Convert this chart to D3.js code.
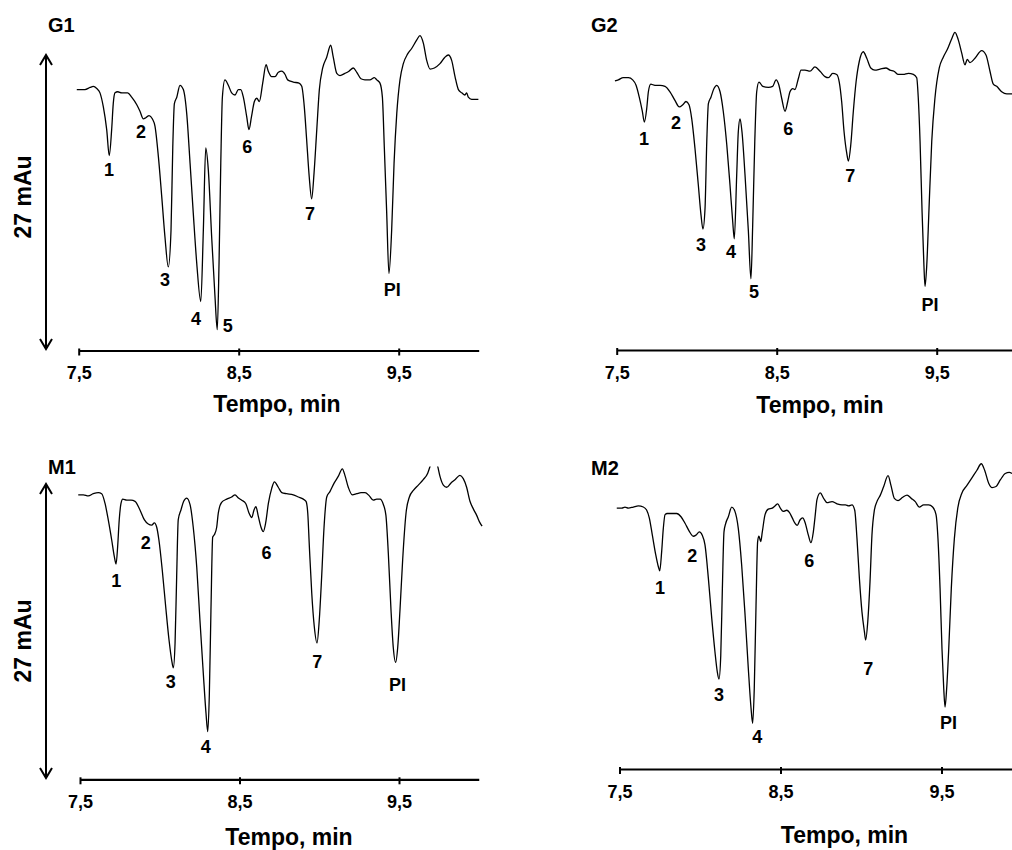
<!DOCTYPE html>
<html>
<head>
<meta charset="utf-8">
<script src="https://cdn.jsdelivr.net/npm/d3@7"></script>
<style>
  html, body { margin: 0; padding: 0; background: #fff; }
  svg { display: block; }
  text { font-family: Arial, "Liberation Sans", sans-serif; font-weight: bold; fill: #000; }
</style>
</head>
<body>
<svg id="chart" width="1012" height="850"></svg>
<script>
// Electropherograms (absorbance, mAu, vs migration time, min) for four samples.

const tickValues = [7.5, 8.5, 9.5];
const tickLabels = ["7,5", "8,5", "9,5"];
const xTitle = "Tempo, min";
const yTitle = "27 mAu";
const scaleBarMau = 27;

// [time (min), signal (mAu)]
const traceG1 = [[7.488,23.8],[7.539,23.8],[7.571,24.0],[7.591,24.1],[7.613,23.9],[7.633,23.5],[7.654,22.2],[7.675,20.1],[7.691,17.7],[7.706,20.1],[7.716,22.5],[7.727,23.5],[7.744,23.6],[7.769,23.5],[7.806,23.5],[7.831,23.1],[7.863,22.4],[7.883,21.8],[7.904,21.1],[7.919,21.2],[7.94,21.4],[7.96,21.1],[7.977,20.4],[7.998,17.6],[8.019,13.9],[8.039,10.2],[8.06,7.4],[8.077,10.8],[8.088,18.5],[8.098,22.5],[8.113,23.1],[8.133,24.2],[8.154,23.8],[8.175,21.6],[8.196,17.0],[8.216,12.4],[8.238,7.7],[8.263,4.2],[8.279,10.8],[8.294,18.4],[8.31,16.4],[8.331,10.2],[8.352,4.6],[8.366,1.6],[8.377,7.7],[8.388,17.0],[8.398,23.1],[8.414,24.7],[8.435,24.2],[8.456,23.5],[8.477,23.3],[8.498,23.8],[8.513,23.8],[8.529,23.1],[8.55,21.3],[8.564,20.1],[8.58,21.3],[8.598,22.7],[8.613,23.0],[8.629,22.7],[8.65,24.4],[8.671,26.1],[8.685,25.5],[8.706,25.0],[8.727,25.0],[8.748,25.4],[8.769,25.5],[8.79,25.2],[8.806,24.7],[8.841,24.5],[8.877,24.4],[8.894,24.1],[8.91,22.2],[8.925,19.1],[8.941,15.7],[8.956,13.7],[8.971,16.1],[8.988,20.1],[9.004,23.8],[9.025,25.8],[9.05,26.8],[9.075,27.9],[9.091,26.8],[9.113,25.3],[9.133,25.1],[9.164,25.3],[9.189,25.5],[9.216,25.8],[9.238,25.4],[9.264,24.8],[9.289,24.7],[9.32,24.7],[9.348,24.9],[9.363,24.7],[9.383,24.4],[9.398,23.1],[9.41,18.5],[9.425,12.4],[9.439,6.8],[9.456,10.8],[9.471,17.0],[9.488,21.6],[9.508,24.7],[9.529,26.2],[9.556,27.1],[9.581,27.6],[9.613,28.4],[9.633,28.8],[9.654,28.1],[9.675,26.5],[9.696,25.7],[9.723,25.8],[9.758,26.2],[9.789,26.8],[9.81,27.0],[9.831,26.5],[9.852,25.0],[9.873,23.8],[9.894,23.5],[9.914,23.3],[9.925,23.5],[9.935,23.1],[9.956,22.9],[9.998,22.9]];

const traceG2 = [[7.489,24.6],[7.51,24.7],[7.541,24.9],[7.573,24.9],[7.6,24.7],[7.621,24.2],[7.641,23.1],[7.66,21.8],[7.673,20.8],[7.688,22.1],[7.698,23.6],[7.713,24.3],[7.739,24.2],[7.771,24.2],[7.802,24.1],[7.833,23.6],[7.864,22.8],[7.891,22.2],[7.913,22.4],[7.933,22.7],[7.952,22.4],[7.969,21.1],[7.989,18.4],[8.01,15.0],[8.027,12.2],[8.039,10.9],[8.052,12.8],[8.063,19.0],[8.073,22.5],[8.089,23.1],[8.108,23.9],[8.125,24.2],[8.146,23.6],[8.166,21.8],[8.188,18.7],[8.208,15.0],[8.225,11.6],[8.235,10.0],[8.25,15.9],[8.26,19.9],[8.271,21.1],[8.283,19.9],[8.302,15.9],[8.323,10.7],[8.339,6.3],[8.35,11.3],[8.363,19.0],[8.375,23.6],[8.389,24.5],[8.413,24.1],[8.448,24.0],[8.475,24.1],[8.496,24.7],[8.514,24.2],[8.531,23.0],[8.552,21.8],[8.569,22.7],[8.583,23.6],[8.6,23.9],[8.614,23.8],[8.635,24.8],[8.652,25.6],[8.677,25.6],[8.708,25.5],[8.739,25.9],[8.771,25.5],[8.802,25.0],[8.823,24.9],[8.85,25.3],[8.875,25.2],[8.891,24.5],[8.906,22.7],[8.921,19.9],[8.938,17.9],[8.948,17.2],[8.963,18.7],[8.979,21.8],[8.996,24.5],[9.016,26.4],[9.041,27.3],[9.063,26.7],[9.088,25.8],[9.114,25.6],[9.146,25.7],[9.183,25.8],[9.208,25.6],[9.233,25.5],[9.26,25.2],[9.291,25.2],[9.323,25.3],[9.354,25.2],[9.375,24.9],[9.385,23.0],[9.396,19.0],[9.408,12.8],[9.42,7.6],[9.427,5.6],[9.438,7.6],[9.452,12.8],[9.469,19.0],[9.489,23.0],[9.516,25.8],[9.541,26.8],[9.566,27.5],[9.594,28.5],[9.614,29.1],[9.635,28.4],[9.656,27.2],[9.677,26.1],[9.691,26.6],[9.708,26.3],[9.739,26.7],[9.781,27.4],[9.808,27.0],[9.833,25.5],[9.854,24.3],[9.875,24.1],[9.906,23.6],[9.938,23.4],[9.971,23.4]];

const traceM1 = [[7.489,26.0],[7.521,26.0],[7.552,25.9],[7.583,26.1],[7.615,26.2],[7.636,26.1],[7.657,25.2],[7.677,23.7],[7.699,21.8],[7.715,20.3],[7.726,19.6],[7.736,21.2],[7.746,23.7],[7.757,25.2],[7.768,25.6],[7.793,25.5],[7.82,25.5],[7.845,25.4],[7.876,24.6],[7.903,23.7],[7.928,23.3],[7.95,23.2],[7.966,23.4],[7.981,23.0],[7.995,21.8],[8.016,19.0],[8.037,15.7],[8.058,12.6],[8.075,10.7],[8.085,10.0],[8.096,12.3],[8.106,18.4],[8.116,23.7],[8.133,24.6],[8.15,25.4],[8.169,25.7],[8.19,25.1],[8.21,23.0],[8.232,19.3],[8.252,14.4],[8.273,9.5],[8.29,5.8],[8.301,4.1],[8.311,7.6],[8.321,15.3],[8.332,22.1],[8.342,22.3],[8.357,23.0],[8.367,24.3],[8.388,25.3],[8.42,25.6],[8.451,25.8],[8.472,26.0],[8.493,25.7],[8.514,25.5],[8.539,25.2],[8.56,24.3],[8.577,23.9],[8.591,24.6],[8.603,24.9],[8.618,24.0],[8.635,23.0],[8.649,22.6],[8.664,23.4],[8.681,25.2],[8.702,26.6],[8.719,27.2],[8.743,26.7],[8.765,26.2],[8.796,26.1],[8.837,26.0],[8.869,25.8],[8.9,25.6],[8.917,25.4],[8.928,24.3],[8.938,21.2],[8.953,16.9],[8.969,13.8],[8.986,12.3],[9.0,14.4],[9.015,18.4],[9.03,23.0],[9.047,25.8],[9.067,26.3],[9.094,27.1],[9.119,27.7],[9.145,28.4],[9.161,27.8],[9.182,26.7],[9.207,26.0],[9.235,26.1],[9.262,26.2],[9.287,26.2],[9.314,25.9],[9.339,25.5],[9.36,25.6],[9.381,25.6],[9.402,25.1],[9.418,24.1],[9.433,20.6],[9.45,15.3],[9.464,11.9],[9.479,10.5],[9.492,11.9],[9.506,15.3],[9.523,20.0],[9.544,24.3],[9.565,25.8],[9.59,26.4],[9.621,26.9],[9.652,27.4],[9.68,28.0],[9.694,28.6],[9.716,29.7],[9.743,28.6],[9.757,27.7],[9.778,26.9],[9.799,26.7],[9.826,27.1],[9.851,27.4],[9.882,27.8],[9.903,27.5],[9.924,26.7],[9.945,25.4],[9.966,24.7],[9.987,24.1],[10.008,23.4],[10.021,23.1]];

const traceM2 = [[7.483,23.8],[7.514,23.8],[7.534,23.9],[7.555,23.8],[7.586,23.9],[7.617,24.0],[7.648,23.9],[7.669,23.6],[7.685,22.9],[7.704,21.3],[7.725,19.5],[7.741,18.4],[7.75,18.0],[7.762,19.8],[7.772,21.9],[7.783,23.2],[7.797,23.3],[7.824,23.3],[7.855,23.3],[7.882,23.0],[7.907,22.4],[7.932,21.7],[7.958,21.2],[7.975,21.3],[7.996,21.6],[8.014,21.3],[8.031,20.4],[8.052,17.3],[8.073,13.6],[8.093,10.5],[8.107,8.7],[8.118,8.0],[8.129,10.2],[8.139,16.4],[8.149,21.6],[8.16,22.4],[8.176,23.0],[8.197,23.9],[8.217,23.5],[8.238,21.9],[8.259,18.5],[8.28,13.9],[8.3,9.0],[8.317,5.3],[8.327,3.9],[8.337,7.1],[8.348,14.8],[8.358,20.7],[8.366,21.2],[8.377,20.7],[8.387,21.6],[8.404,23.2],[8.424,23.7],[8.449,23.8],[8.466,24.0],[8.483,24.2],[8.499,23.8],[8.517,23.5],[8.539,23.6],[8.555,23.4],[8.573,22.9],[8.59,22.4],[8.604,22.2],[8.621,22.7],[8.638,22.9],[8.652,22.5],[8.673,21.3],[8.689,20.6],[8.704,21.6],[8.714,22.9],[8.727,24.6],[8.747,25.2],[8.768,24.7],[8.789,24.3],[8.82,24.4],[8.851,24.2],[8.882,24.1],[8.903,24.1],[8.924,24.0],[8.944,24.1],[8.961,23.6],[8.975,21.0],[8.99,17.3],[9.006,14.2],[9.021,12.4],[9.029,11.6],[9.042,13.3],[9.056,17.0],[9.068,21.3],[9.083,23.6],[9.099,24.4],[9.12,25.0],[9.141,25.8],[9.168,26.8],[9.186,25.9],[9.207,24.7],[9.23,24.5],[9.259,24.8],[9.286,25.0],[9.312,24.7],[9.337,24.4],[9.362,23.9],[9.389,24.1],[9.42,24.1],[9.445,23.9],[9.466,23.2],[9.478,21.0],[9.491,16.4],[9.503,10.8],[9.514,7.1],[9.522,5.4],[9.532,7.1],[9.545,10.8],[9.561,16.4],[9.58,21.0],[9.601,23.8],[9.627,25.2],[9.658,25.9],[9.689,26.6],[9.72,27.3],[9.747,27.9],[9.768,27.3],[9.793,26.1],[9.814,25.7],[9.839,25.8],[9.865,26.4],[9.896,27.0],[9.921,27.1],[9.938,27.0]];

// Peak annotations: [label, time, signal] at the label baseline
const peaksG1 = [["1",7.69,15.8],["2",7.89,19.3],["3",8.04,5.6],["4",8.233,2.0],["5",8.431,1.4],["6",8.553,17.9],["7",8.945,11.7],["PI",9.46,4.7]];
const peaksG2 = [["1",7.671,18.7],["2",7.871,20.2],["3",8.027,8.9],["4",8.215,8.2],["5",8.358,4.5],["6",8.573,19.6],["7",8.96,15.3],["PI",9.458,3.3]];
const peaksM1 = [["1",7.727,17.5],["2",7.912,21.0],["3",8.069,8.1],["4",8.288,2.1],["6",8.67,20.1],["7",8.988,10.0],["PI",9.49,7.9]];
const peaksM2 = [["1",7.752,15.9],["2",7.952,18.8],["3",8.118,6.0],["4",8.356,2.1],["6",8.679,18.4],["7",9.045,8.4],["PI",9.543,3.4]];

// Panel layout
const panels = [
  { id: "G1", trace: traceG1, peaks: peaksG1, xLeft: 78.7, xRight: 478.7, axisY: 350.5, base: 347,
    title: [48, 32], xTitlePos: [277, 412], scaleBar: { x: 46, labelX: 23, labelY: 197 }, clipTop: 0 },
  { id: "G2", trace: traceG2, peaks: peaksG2, xLeft: 616.7, xRight: 1016.7, axisY: 350, base: 347,
    title: [591, 32], xTitlePos: [820, 413], scaleBar: null, clipTop: 0 },
  { id: "M1", trace: traceM1, peaks: peaksM1, xLeft: 80, xRight: 478.75, axisY: 779.3, base: 776,
    title: [48, 474], xTitlePos: [289, 845], scaleBar: { x: 46, labelX: 23, labelY: 641 }, clipTop: 466.5 },
  { id: "M2", trace: traceM2, peaks: peaksM2, xLeft: 619.5, xRight: 1022, axisY: 769, base: 765.5,
    title: [591, 475], xTitlePos: [844.5, 842.5], scaleBar: null, clipTop: 0 }
];

const svg = d3.select("#chart");
const pxPerMau = 292 / scaleBarMau;

panels.forEach(p => {
  const x = d3.scaleLinear().domain([7.5, 10.0]).range([p.xLeft, p.xRight]);
  const y = d3.scaleLinear().domain([0, scaleBarMau]).range([p.base, p.base - scaleBarMau * pxPerMau]);
  const g = svg.append("g").attr("class", "panel-" + p.id);

  // clipping of the trace to the plotting area
  const clipId = "clip-" + p.id;
  svg.append("defs").append("clipPath").attr("id", clipId)
    .append("rect")
    .attr("x", 0).attr("y", p.clipTop)
    .attr("width", 1012).attr("height", p.axisY - p.clipTop);

  // trace
  const line = d3.line()
    .x(d => x(d[0]))
    .y(d => y(d[1]))
    .curve(d3.curveMonotoneX);
  g.append("path")
    .datum(p.trace)
    .attr("clip-path", `url(#${clipId})`)
    .attr("d", line)
    .attr("fill", "none")
    .attr("stroke", "#000")
    .attr("stroke-width", 1.3)
    .attr("stroke-linejoin", "round");

  // peak labels
  g.selectAll("text.peak")
    .data(p.peaks)
    .join("text")
    .attr("class", "peak")
    .attr("x", d => x(d[1]))
    .attr("y", d => y(d[2]))
    .attr("text-anchor", "middle")
    .attr("font-size", 18)
    .text(d => d[0]);

  // time axis
  const axis = d3.axisBottom(x)
    .tickValues(tickValues)
    .tickFormat((d, k) => tickLabels[k])
    .tickSizeOuter(0)
    .tickSizeInner(5)
    .tickPadding(11);
  const ax = g.append("g")
    .attr("transform", `translate(0,${p.axisY})`)
    .call(axis);
  ax.select(".domain").attr("stroke", "#000").attr("stroke-width", 2.2);
  ax.selectAll(".tick line").attr("stroke", "#000").attr("stroke-width", 2).attr("y1", -2);
  ax.selectAll(".tick text")
    .attr("font-size", 18)
    .attr("font-family", "Arial, 'Liberation Sans', sans-serif")
    .attr("font-weight", "bold")
    .attr("fill", "#000");

  g.append("text")
    .attr("x", p.xTitlePos[0])
    .attr("y", p.xTitlePos[1])
    .attr("text-anchor", "middle")
    .attr("font-size", 23)
    .text(xTitle);

  // panel title
  g.append("text")
    .attr("x", p.title[0])
    .attr("y", p.title[1])
    .attr("font-size", 20)
    .text(p.id);

  // 27 mAu scale bar
  if (p.scaleBar) {
    const sb = p.scaleBar;
    const top = y(scaleBarMau), bottom = y(0) + 2;
    g.append("line")
      .attr("x1", sb.x).attr("x2", sb.x)
      .attr("y1", top).attr("y2", bottom)
      .attr("stroke", "#000").attr("stroke-width", 2);
    g.append("path")
      .attr("d", `M${sb.x - 6},${top + 10}L${sb.x},${top}L${sb.x + 6},${top + 10}`
               + `M${sb.x - 6},${bottom - 10}L${sb.x},${bottom}L${sb.x + 6},${bottom - 10}`)
      .attr("fill", "none").attr("stroke", "#000").attr("stroke-width", 2);
    g.append("text")
      .attr("transform", `translate(${sb.labelX},${sb.labelY}) rotate(-90)`)
      .attr("text-anchor", "middle")
      .attr("dominant-baseline", "central")
      .attr("font-size", 23)
      .text(yTitle);
  }
});
</script>
</body>
</html>
